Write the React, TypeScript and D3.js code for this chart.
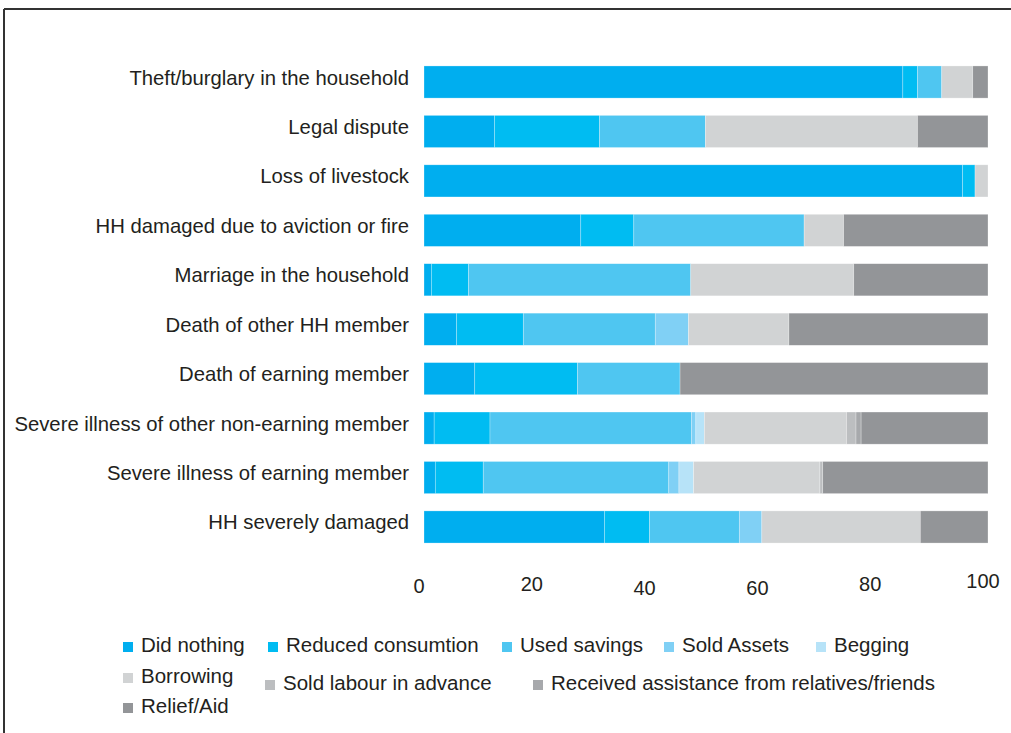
import { useEffect } from "react";
import * as d3 from "d3";

const categories = [
  "Theft/burglary in the household",
  "Legal dispute",
  "Loss of livestock",
  "HH damaged due to aviction or fire",
  "Marriage in the household",
  "Death of other HH member",
  "Death of earning member",
  "Severe illness of other non-earning member",
  "Severe illness of earning member",
  "HH severely damaged",
];

// share of households (%) per coping strategy, in category order
const didNothing = [84.9, 12.5, 95.5, 27.8, 1.3, 5.8, 9.0, 1.8, 2.0, 32.0];
const reducedConsumption = [2.6, 18.6, 2.2, 9.4, 6.6, 11.8, 18.2, 9.9, 8.5, 8.0];
const usedSavings = [4.3, 18.8, 0, 30.2, 39.4, 23.4, 18.2, 35.7, 32.9, 15.9];
const soldAssets = [0, 0, 0, 0, 0, 5.9, 0, 0.8, 1.8, 4.0];
const begging = [0, 0, 0, 0, 0, 0, 0, 1.5, 2.6, 0];
const borrowing = [5.5, 37.6, 2.3, 7.0, 28.9, 17.8, 0, 25.2, 22.4, 28.1];
const soldLabour = [0, 0, 0, 0, 0, 0, 0, 1.7, 0.5, 0];
const receivedAssistance = [0, 0, 0, 0, 0, 0, 0, 0.9, 0, 0];
const reliefAid = [2.7, 12.5, 0, 25.6, 23.8, 35.3, 54.6, 22.5, 29.3, 12.0];

const seriesNames = [
  "Did nothing",
  "Reduced consumtion",
  "Used savings",
  "Sold Assets",
  "Begging",
  "Borrowing",
  "Sold labour in advance",
  "Received assistance from relatives/friends",
  "Relief/Aid",
];
const seriesValues = [
  didNothing,
  reducedConsumption,
  usedSavings,
  soldAssets,
  begging,
  borrowing,
  soldLabour,
  receivedAssistance,
  reliefAid,
];
const colors = [
  "#00aeef",
  "#00bcf2",
  "#4fc6f1",
  "#80d0f5",
  "#b7e3f8",
  "#d1d3d4",
  "#bcbec0",
  "#a7a9ac",
  "#939598",
];

const xTicks = [0, 20, 40, 60, 80, 100];

// legend placement (irregular in the original layout)
const legendPos = [
  [123, 652],
  [268, 652],
  [502, 652],
  [664, 652],
  [816, 652],
  [123, 683],
  [265, 690],
  [533, 690],
  [123, 713],
];
const tickNudge = [0, -2, 2, 2, -2, -5];

const FONT = "'Liberation Sans', Arial, Helvetica, sans-serif";
const TEXT = "#231f20";

export default function App() {
  useEffect(() => {
    document.body.style.margin = "0";
  }, []);

  const width = 1011;
  const height = 733;

  const rows = categories.map((c, i) => {
    const r: Record<string, number | string> = { category: c };
    seriesNames.forEach((s, j) => (r[s] = seriesValues[j][i]));
    return r;
  });

  const stacked = d3.stack<Record<string, number | string>>().keys(seriesNames)(rows as any);

  const x = d3.scaleLinear().domain([0, 100]).range([424, 988]);
  const y = d3
    .scaleBand()
    .domain(categories)
    .range([57.3, 551.7])
    .paddingInner(0.35)
    .paddingOuter(0.175);

  return (
    <svg width={width} height={height} style={{ display: "block", fontFamily: FONT }}>
      <rect width={width} height={height} fill="#fff" />
      {/* frame */}
      <line x1={4} x2={width} y1={9} y2={9} stroke="#333" strokeWidth={2} />
      <line x1={4} x2={4} y1={9} y2={height} stroke="#333" strokeWidth={2} />

      {/* bars */}
      {stacked.map((layer, j) => (
        <g key={seriesNames[j]} fill={colors[j]}>
          {layer.map((d, i) =>
            d[1] - d[0] > 0 ? (
              <rect
                key={i}
                x={x(d[0])}
                y={y(categories[i])}
                width={x(d[1]) - x(d[0])}
                height={y.bandwidth()}
                stroke="#ffffff"
                strokeOpacity={0.45}
                strokeWidth={0.6}
              />
            ) : null
          )}
        </g>
      ))}

      {/* category labels */}
      {categories.map((c) => (
        <text
          key={c}
          x={409}
          y={(y(c) as number) + y.bandwidth() / 2 + 2.5}
          textAnchor="end"
          fontSize={20.3}
          fill={TEXT}
        >
          {c}
        </text>
      ))}

      {/* x axis labels */}
      {xTicks.map((t, i) => (
        <text
          key={t}
          x={x(t) - 5}
          y={593 + tickNudge[i]}
          textAnchor="middle"
          fontSize={20}
          fill={TEXT}
        >
          {t}
        </text>
      ))}

      {/* legend */}
      {seriesNames.map((s, j) => (
        <g key={s} transform={`translate(${legendPos[j][0]},${legendPos[j][1]})`}>
          <rect x={0} y={-10} width={10} height={10} fill={colors[j]} />
          <text x={18} y={0} fontSize={20.5} fill={TEXT}>
            {s}
          </text>
        </g>
      ))}
    </svg>
  );
}
